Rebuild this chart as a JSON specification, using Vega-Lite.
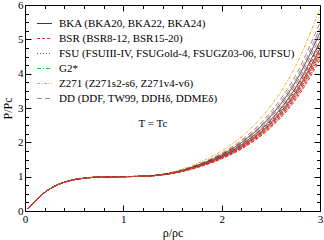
{
  "$schema": "https://vega.github.io/schema/vega-lite/v6.json",
  "width": 295,
  "height": 206,
  "autosize": "none",
  "padding": {"left": 25, "top": 5, "right": 4, "bottom": 29},
  "background": "white",
  "config": {"view": {"stroke": null}, "font": "Liberation Serif"},
  "datasets": {
    "curves": [
      {"r":0.03,"DDF":0.06,"TW99":0.06,"DDH":0.06,"DDME":0.06,"Z271s2":0.06,"Z271s4":0.06,"Z271v5":0.06,"BKA20":0.06,"BKA22":0.06,"BKA24":0.06,"FSUIII":0.06,"FSUGold4":0.06,"IUFSU":0.06,"G2s":0.06,"BSR8":0.06,"BSR10":0.06,"BSR12":0.06,"BSR16":0.06,"BSR20":0.06},
      {"r":0.1,"DDF":0.28,"TW99":0.28,"DDH":0.28,"DDME":0.28,"Z271s2":0.28,"Z271s4":0.28,"Z271v5":0.28,"BKA20":0.28,"BKA22":0.28,"BKA24":0.28,"FSUIII":0.28,"FSUGold4":0.28,"IUFSU":0.28,"G2s":0.28,"BSR8":0.28,"BSR10":0.28,"BSR12":0.28,"BSR16":0.28,"BSR20":0.28},
      {"r":0.2,"DDF":0.54,"TW99":0.54,"DDH":0.54,"DDME":0.54,"Z271s2":0.54,"Z271s4":0.54,"Z271v5":0.54,"BKA20":0.54,"BKA22":0.54,"BKA24":0.54,"FSUIII":0.54,"FSUGold4":0.54,"IUFSU":0.54,"G2s":0.54,"BSR8":0.54,"BSR10":0.54,"BSR12":0.54,"BSR16":0.54,"BSR20":0.54},
      {"r":0.3,"DDF":0.72,"TW99":0.72,"DDH":0.72,"DDME":0.72,"Z271s2":0.72,"Z271s4":0.72,"Z271v5":0.72,"BKA20":0.72,"BKA22":0.72,"BKA24":0.72,"FSUIII":0.72,"FSUGold4":0.72,"IUFSU":0.72,"G2s":0.72,"BSR8":0.72,"BSR10":0.72,"BSR12":0.72,"BSR16":0.72,"BSR20":0.72},
      {"r":0.45,"DDF":0.88,"TW99":0.88,"DDH":0.88,"DDME":0.88,"Z271s2":0.88,"Z271s4":0.88,"Z271v5":0.88,"BKA20":0.88,"BKA22":0.88,"BKA24":0.88,"FSUIII":0.88,"FSUGold4":0.88,"IUFSU":0.88,"G2s":0.88,"BSR8":0.88,"BSR10":0.88,"BSR12":0.88,"BSR16":0.88,"BSR20":0.88},
      {"r":0.6,"DDF":0.955,"TW99":0.955,"DDH":0.955,"DDME":0.955,"Z271s2":0.955,"Z271s4":0.955,"Z271v5":0.955,"BKA20":0.955,"BKA22":0.955,"BKA24":0.955,"FSUIII":0.955,"FSUGold4":0.955,"IUFSU":0.955,"G2s":0.955,"BSR8":0.955,"BSR10":0.955,"BSR12":0.955,"BSR16":0.955,"BSR20":0.955},
      {"r":0.8,"DDF":0.993,"TW99":0.993,"DDH":0.993,"DDME":0.993,"Z271s2":0.993,"Z271s4":0.993,"Z271v5":0.993,"BKA20":0.993,"BKA22":0.993,"BKA24":0.993,"FSUIII":0.993,"FSUGold4":0.993,"IUFSU":0.993,"G2s":0.993,"BSR8":0.993,"BSR10":0.993,"BSR12":0.993,"BSR16":0.993,"BSR20":0.993},
      {"r":1.0,"DDF":1.0,"TW99":1.0,"DDH":1.0,"DDME":1.0,"Z271s2":1.0,"Z271s4":1.0,"Z271v5":1.0,"BKA20":1.0,"BKA22":1.0,"BKA24":1.0,"FSUIII":1.0,"FSUGold4":1.0,"IUFSU":1.0,"G2s":1.0,"BSR8":1.0,"BSR10":1.0,"BSR12":1.0,"BSR16":1.0,"BSR20":1.0},
      {"r":1.25,"DDF":1.022,"TW99":1.022,"DDH":1.020,"DDME":1.020,"Z271s2":1.024,"Z271s4":1.018,"Z271v5":1.018,"BKA20":1.021,"BKA22":1.020,"BKA24":1.019,"FSUIII":1.017,"FSUGold4":1.018,"IUFSU":1.018,"G2s":1.018,"BSR8":1.017,"BSR10":1.018,"BSR12":1.018,"BSR16":1.019,"BSR20":1.019},
      {"r":1.5,"DDF":1.125,"TW99":1.121,"DDH":1.114,"DDME":1.109,"Z271s2":1.137,"Z271s4":1.099,"Z271v5":1.102,"BKA20":1.117,"BKA22":1.110,"BKA24":1.105,"FSUIII":1.096,"FSUGold4":1.100,"IUFSU":1.103,"G2s":1.101,"BSR8":1.095,"BSR10":1.098,"BSR12":1.101,"BSR16":1.104,"BSR20":1.107},
      {"r":1.75,"DDF":1.350,"TW99":1.337,"DDH":1.318,"DDME":1.305,"Z271s2":1.382,"Z271s4":1.276,"Z271v5":1.285,"BKA20":1.327,"BKA22":1.307,"BKA24":1.292,"FSUIII":1.269,"FSUGold4":1.278,"IUFSU":1.288,"G2s":1.281,"BSR8":1.265,"BSR10":1.273,"BSR12":1.282,"BSR16":1.289,"BSR20":1.299},
      {"r":2.0,"DDF":1.686,"TW99":1.660,"DDH":1.624,"DDME":1.598,"Z271s2":1.749,"Z271s4":1.541,"Z271v5":1.559,"BKA20":1.642,"BKA22":1.603,"BKA24":1.572,"FSUIII":1.528,"FSUGold4":1.546,"IUFSU":1.564,"G2s":1.551,"BSR8":1.520,"BSR10":1.536,"BSR12":1.554,"BSR16":1.567,"BSR20":1.588},
      {"r":2.25,"DDF":2.175,"TW99":2.130,"DDH":2.068,"DDME":2.024,"Z271s2":2.282,"Z271s4":1.926,"Z271v5":1.957,"BKA20":2.099,"BKA22":2.032,"BKA24":1.979,"FSUIII":1.903,"FSUGold4":1.935,"IUFSU":1.966,"G2s":1.943,"BSR8":1.890,"BSR10":1.917,"BSR12":1.948,"BSR16":1.970,"BSR20":2.006},
      {"r":2.5,"DDF":2.888,"TW99":2.816,"DDH":2.716,"DDME":2.645,"Z271s2":3.059,"Z271s4":2.487,"Z271v5":2.537,"BKA20":2.766,"BKA22":2.659,"BKA24":2.573,"FSUIII":2.451,"FSUGold4":2.502,"IUFSU":2.552,"G2s":2.516,"BSR8":2.430,"BSR10":2.473,"BSR12":2.523,"BSR16":2.559,"BSR20":2.616},
      {"r":2.75,"DDF":3.944,"TW99":3.832,"DDH":3.676,"DDME":3.565,"Z271s2":4.211,"Z271s4":3.319,"Z271v5":3.397,"BKA20":3.754,"BKA22":3.587,"BKA24":3.453,"FSUIII":3.263,"FSUGold4":3.342,"IUFSU":3.420,"G2s":3.364,"BSR8":3.230,"BSR10":3.297,"BSR12":3.375,"BSR16":3.431,"BSR20":3.520},
      {"r":3.0,"DDF":5.488,"TW99":5.318,"DDH":5.080,"DDME":4.910,"Z271s2":5.896,"Z271s4":4.536,"Z271v5":4.655,"BKA20":5.199,"BKA22":4.944,"BKA24":4.740,"FSUIII":4.451,"FSUGold4":4.570,"IUFSU":4.689,"G2s":4.604,"BSR8":4.400,"BSR10":4.502,"BSR12":4.621,"BSR16":4.706,"BSR20":4.842}
    ],
    "grp": [
      {"id":"DDF","g":"DD (DDF, TW99, DDHδ, DDMEδ)"},
      {"id":"TW99","g":"DD (DDF, TW99, DDHδ, DDMEδ)"},
      {"id":"DDH","g":"DD (DDF, TW99, DDHδ, DDMEδ)"},
      {"id":"DDME","g":"DD (DDF, TW99, DDHδ, DDMEδ)"},
      {"id":"Z271s2","g":"Z271 (Z271s2-s6, Z271v4-v6)"},
      {"id":"Z271s4","g":"Z271 (Z271s2-s6, Z271v4-v6)"},
      {"id":"Z271v5","g":"Z271 (Z271s2-s6, Z271v4-v6)"},
      {"id":"BKA20","g":"BKA (BKA20, BKA22, BKA24)"},
      {"id":"BKA22","g":"BKA (BKA20, BKA22, BKA24)"},
      {"id":"BKA24","g":"BKA (BKA20, BKA22, BKA24)"},
      {"id":"FSUIII","g":"FSU (FSUIII-IV, FSUGold-4, FSUGZ03-06, IUFSU)"},
      {"id":"FSUGold4","g":"FSU (FSUIII-IV, FSUGold-4, FSUGZ03-06, IUFSU)"},
      {"id":"IUFSU","g":"FSU (FSUIII-IV, FSUGold-4, FSUGZ03-06, IUFSU)"},
      {"id":"G2s","g":"G2*"},
      {"id":"BSR8","g":"BSR (BSR8-12, BSR15-20)"},
      {"id":"BSR10","g":"BSR (BSR8-12, BSR15-20)"},
      {"id":"BSR12","g":"BSR (BSR8-12, BSR15-20)"},
      {"id":"BSR16","g":"BSR (BSR8-12, BSR15-20)"},
      {"id":"BSR20","g":"BSR (BSR8-12, BSR15-20)"}
    ]
  },
  "layer": [
    {
      "data": {"name": "curves"},
      "transform": [
        {"fold": ["DDF","TW99","DDH","DDME","Z271s2","Z271s4","Z271v5","BKA20","BKA22","BKA24","FSUIII","FSUGold4","IUFSU","G2s","BSR8","BSR10","BSR12","BSR16","BSR20"], "as": ["id","P"]},
        {"lookup": "id", "from": {"data": {"name": "grp"}, "key": "id", "fields": ["g"]}}
      ],
      "mark": {"type": "line", "strokeWidth": 1, "interpolate": "monotone", "clip": true},
      "encoding": {
        "x": {"field": "r", "type": "quantitative", "scale": {"domain": [0, 3], "nice": false},
          "title": "ρ/ρc",
          "axis": {"orient": "bottom", "values": [0,0.2,0.4,0.6,0.8,1,1.2,1.4,1.6,1.8,2,2.2,2.4,2.6,2.8,3],
            "tickSize": {"condition": {"test": "datum.value % 1 === 0", "value": -6}, "value": -3.5},
            "labelExpr": "datum.value % 1 === 0 ? format(datum.value, 'd') : ''",
            "labelPadding": 8, "labelFlush": false, "labelOverlap": false, "grid": false,
            "domainColor": "black", "tickColor": "black", "labelColor": "black",
            "labelFont": "Liberation Serif", "labelFontSize": 11,
            "titleFont": "Liberation Serif", "titleFontSize": 12, "titleFontWeight": "normal", "titleColor": "black", "titlePadding": 1, "titleAnchor": "middle"}},
        "y": {"field": "P", "type": "quantitative", "scale": {"domain": [0, 6], "nice": false},
          "title": "P/Pc",
          "axis": {"orient": "left", "values": [0,0.25,0.5,0.75,1,1.25,1.5,1.75,2,2.25,2.5,2.75,3,3.25,3.5,3.75,4,4.25,4.5,4.75,5,5.25,5.5,5.75,6],
            "tickSize": {"condition": {"test": "datum.value % 1 === 0", "value": -6}, "value": -3.5},
            "labelExpr": "datum.value % 1 === 0 ? format(datum.value, 'd') : ''",
            "labelPadding": 8, "labelFlush": false, "labelOverlap": false, "grid": false,
            "domainColor": "black", "tickColor": "black", "labelColor": "black",
            "labelFont": "Liberation Serif", "labelFontSize": 11,
            "titleFont": "Liberation Serif", "titleFontSize": 12, "titleFontWeight": "normal", "titleColor": "black", "titlePadding": 3, "titleAnchor": "middle"}},
        "color": {"field": "g", "type": "nominal",
          "scale": {"domain": ["BKA (BKA20, BKA22, BKA24)","BSR (BSR8-12, BSR15-20)","FSU (FSUIII-IV, FSUGold-4, FSUGZ03-06, IUFSU)","G2*","Z271 (Z271s2-s6, Z271v4-v6)","DD (DDF, TW99, DDHδ, DDMEδ)"],
            "range": ["#3a3a3a","#ff2020","#5050ff","#20d020","#ffa500","#b88080"]},
          "legend": {"orient": "none", "legendX": 11, "legendY": 10, "title": null, "symbolType": "stroke", "symbolSize": 225, "symbolStrokeWidth": 1.2,
            "labelFont": "Liberation Serif", "labelFontSize": 11, "labelColor": "black", "labelLimit": 0, "labelOffset": 6, "rowPadding": 1, "padding": 0}},
        "strokeDash": {"field": "g", "type": "nominal",
          "scale": {"domain": ["BKA (BKA20, BKA22, BKA24)","BSR (BSR8-12, BSR15-20)","FSU (FSUIII-IV, FSUGold-4, FSUGZ03-06, IUFSU)","G2*","Z271 (Z271s2-s6, Z271v4-v6)","DD (DDF, TW99, DDHδ, DDMEδ)"],
            "range": [[1,0],[3,2],[1,2],[4,2,1,2],[3,1.5,1,1.5],[5,3]]},
          "legend": {"orient": "none", "legendX": 11, "legendY": 10, "title": null, "symbolType": "stroke", "symbolSize": 225, "symbolStrokeWidth": 1.2,
            "labelFont": "Liberation Serif", "labelFontSize": 11, "labelColor": "black", "labelLimit": 0, "labelOffset": 6, "rowPadding": 1, "padding": 0}},
        "detail": {"field": "id", "type": "nominal"}
      }
    },
    {
      "data": {"name": "curves"},
      "transform": [
        {"fold": ["DDF","BSR8"], "as": ["id","P"]}
      ],
      "mark": {"type": "point", "opacity": 0},
      "encoding": {
        "x": {"field": "r", "type": "quantitative",
          "axis": {"orient": "top", "title": null, "labels": false, "values": [0,0.2,0.4,0.6,0.8,1,1.2,1.4,1.6,1.8,2,2.2,2.4,2.6,2.8,3],
            "tickSize": {"condition": {"test": "datum.value % 1 === 0", "value": -6}, "value": -3.5},
            "grid": false, "domainColor": "black", "tickColor": "black"}},
        "y": {"field": "P", "type": "quantitative",
          "axis": {"orient": "right", "title": null, "labels": false, "values": [0,0.25,0.5,0.75,1,1.25,1.5,1.75,2,2.25,2.5,2.75,3,3.25,3.5,3.75,4,4.25,4.5,4.75,5,5.25,5.5,5.75,6],
            "tickSize": {"condition": {"test": "datum.value % 1 === 0", "value": -6}, "value": -3.5},
            "grid": false, "domainColor": "black", "tickColor": "black"}}
      }
    },
    {
      "data": {"values": [{"x": 1.3, "y": 2.52, "t": "T = Tc"}]},
      "mark": {"type": "text", "font": "Liberation Serif", "fontSize": 11, "color": "black"},
      "encoding": {
        "x": {"field": "x", "type": "quantitative", "axis": null},
        "y": {"field": "y", "type": "quantitative", "axis": null},
        "text": {"field": "t"}
      }
    }
  ],
  "resolve": {"axis": {"x": "independent", "y": "independent"}}
}
